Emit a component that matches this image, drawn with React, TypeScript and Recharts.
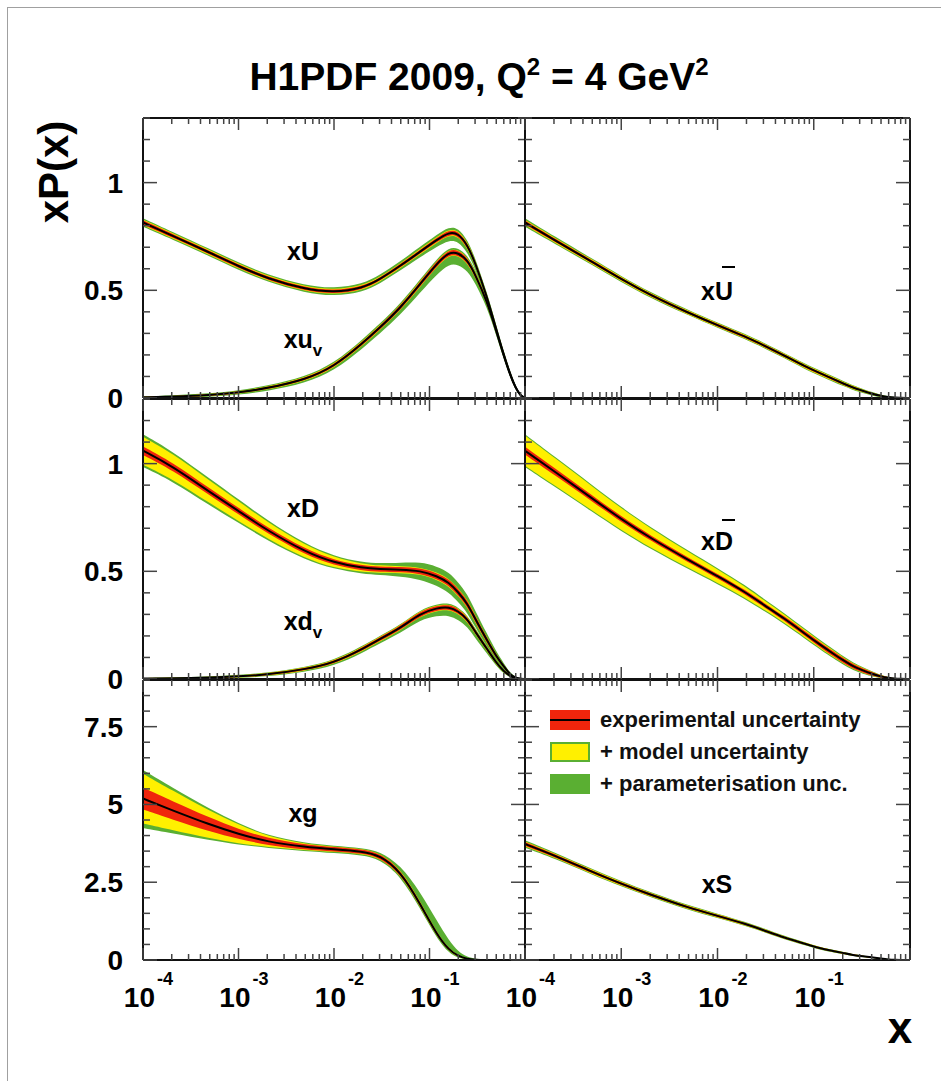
import React from "react";
import { ComposedChart, Area, Line, XAxis, YAxis, Legend } from "recharts";

const FONT = '"Liberation Sans", Arial, Helvetica, sans-serif';
const GREEN = "#5aaf32";
const YELLOW = "#fff000";
const RED = "#f0250c";

// x grid (log axis)
const X_VALUES = [0.0001, 0.0002, 0.0005, 0.001, 0.002, 0.005, 0.01, 0.02, 0.03, 0.05, 0.08, 0.12, 0.16, 0.2, 0.25, 0.3, 0.4, 0.5, 0.6, 0.7, 0.8, 0.9, 1.0];

const X_DECADES = [0.0001, 0.001, 0.01, 0.1];
const X_MINOR_STEPS = [1, 2, 3, 4, 5, 6, 7, 8, 9];
const X_TICKS = X_DECADES.flatMap((d) => X_MINOR_STEPS.map((m) => +(m * d).toPrecision(3))).concat([1]);
const X_LABEL_EXPONENTS = [-4, -3, -2, -1];

const PDF_TICKS = [0, 0.1, 0.2, 0.3, 0.4, 0.5, 0.6, 0.7, 0.8, 0.9, 1, 1.1, 1.2, 1.3];
const PDF_LABELS = [0, 0.5, 1];
const G_TICKS = [0, 0.5, 1, 1.5, 2, 2.5, 3, 3.5, 4, 4.5, 5, 5.5, 6, 6.5, 7, 7.5, 8, 8.5, 9];
const G_LABELS = [0, 2.5, 5, 7.5];

// xU
const xU = [0.815, 0.755, 0.675, 0.612, 0.555, 0.505, 0.49, 0.51, 0.55, 0.615, 0.68, 0.735, 0.77, 0.765, 0.71, 0.63, 0.47, 0.32, 0.2, 0.11, 0.045, 0.01, 0];
const xUExp = [0.01, 0.009, 0.008, 0.008, 0.008, 0.008, 0.008, 0.008, 0.008, 0.008, 0.009, 0.01, 0.011, 0.011, 0.011, 0.01, 0.009, 0.008, 0.007, 0.006, 0.004, 0.002, 0];
const xUMod = [0.013, 0.012, 0.011, 0.011, 0.011, 0.011, 0.011, 0.011, 0.011, 0.011, 0.012, 0.013, 0.014, 0.014, 0.014, 0.013, 0.012, 0.011, 0.009, 0.008, 0.005, 0.002, 0];
const xUParLo = [0.02, 0.018, 0.017, 0.017, 0.017, 0.017, 0.018, 0.019, 0.02, 0.022, 0.026, 0.032, 0.038, 0.038, 0.034, 0.028, 0.022, 0.018, 0.015, 0.012, 0.008, 0.004, 0];
const xUParHi = [0.02, 0.018, 0.017, 0.017, 0.017, 0.017, 0.018, 0.019, 0.02, 0.021, 0.022, 0.024, 0.025, 0.025, 0.024, 0.022, 0.02, 0.018, 0.015, 0.012, 0.008, 0.004, 0];

// xu_v
const xuv = [0.003, 0.006, 0.013, 0.025, 0.045, 0.085, 0.145, 0.255, 0.325, 0.42, 0.53, 0.625, 0.678, 0.675, 0.64, 0.575, 0.45, 0.31, 0.195, 0.105, 0.045, 0.01, 0];
const xuvExp = [0.002, 0.002, 0.003, 0.004, 0.005, 0.006, 0.007, 0.008, 0.009, 0.01, 0.011, 0.012, 0.012, 0.012, 0.012, 0.011, 0.01, 0.008, 0.007, 0.005, 0.003, 0.001, 0];
const xuvMod = [0.004, 0.004, 0.005, 0.006, 0.007, 0.008, 0.009, 0.01, 0.011, 0.012, 0.013, 0.014, 0.014, 0.014, 0.014, 0.013, 0.012, 0.01, 0.009, 0.007, 0.004, 0.001, 0];
const xuvParLo = [0.004, 0.006, 0.008, 0.01, 0.013, 0.016, 0.02, 0.024, 0.027, 0.032, 0.04, 0.05, 0.055, 0.055, 0.05, 0.04, 0.028, 0.02, 0.015, 0.01, 0.006, 0.002, 0];
const xuvParHi = [0.004, 0.006, 0.008, 0.01, 0.012, 0.014, 0.016, 0.018, 0.019, 0.02, 0.021, 0.022, 0.022, 0.022, 0.022, 0.022, 0.022, 0.02, 0.016, 0.012, 0.007, 0.003, 0];

// xUbar
const xUbar = [0.815, 0.735, 0.632, 0.552, 0.478, 0.395, 0.338, 0.283, 0.245, 0.196, 0.148, 0.112, 0.088, 0.068, 0.05, 0.038, 0.02, 0.009, 0.004, 0.002, 0.001, 0, 0];
const xUbarExp = [0.009, 0.008, 0.007, 0.007, 0.006, 0.006, 0.006, 0.006, 0.006, 0.006, 0.006, 0.006, 0.006, 0.005, 0.005, 0.004, 0.003, 0.002, 0.001, 0.001, 0, 0, 0];
const xUbarMod = [0.012, 0.011, 0.01, 0.01, 0.009, 0.009, 0.009, 0.009, 0.009, 0.009, 0.009, 0.009, 0.009, 0.008, 0.008, 0.007, 0.005, 0.004, 0.002, 0.001, 0, 0, 0];
const xUbarPar = [0.02, 0.017, 0.015, 0.014, 0.013, 0.012, 0.012, 0.012, 0.012, 0.012, 0.013, 0.013, 0.013, 0.012, 0.011, 0.01, 0.008, 0.006, 0.004, 0.003, 0.002, 0.001, 0];

// xD
const xD = [1.06, 0.99, 0.868, 0.78, 0.69, 0.59, 0.54, 0.515, 0.51, 0.508, 0.503, 0.478, 0.448, 0.403, 0.35, 0.28, 0.18, 0.105, 0.058, 0.02, 0.005, 0.001, 0];
const xDExp = [0.02, 0.018, 0.016, 0.015, 0.014, 0.013, 0.012, 0.012, 0.012, 0.012, 0.013, 0.014, 0.015, 0.015, 0.015, 0.014, 0.012, 0.009, 0.006, 0.004, 0.002, 0.001, 0];
const xDMod = [0.065, 0.06, 0.052, 0.046, 0.038, 0.03, 0.024, 0.019, 0.017, 0.016, 0.016, 0.017, 0.018, 0.018, 0.017, 0.016, 0.013, 0.01, 0.007, 0.004, 0.002, 0.001, 0];
const xDPar = [0.076, 0.07, 0.062, 0.055, 0.046, 0.037, 0.03, 0.026, 0.027, 0.032, 0.04, 0.045, 0.047, 0.046, 0.043, 0.038, 0.03, 0.022, 0.015, 0.008, 0.004, 0.001, 0];

// xd_v
const xdv = [0.002, 0.003, 0.006, 0.012, 0.02, 0.045, 0.075, 0.14, 0.185, 0.237, 0.305, 0.33, 0.335, 0.315, 0.278, 0.22, 0.14, 0.075, 0.035, 0.013, 0.003, 0.001, 0];
const xdvExp = [0.001, 0.001, 0.002, 0.003, 0.004, 0.005, 0.006, 0.008, 0.009, 0.01, 0.011, 0.011, 0.011, 0.011, 0.01, 0.009, 0.008, 0.006, 0.004, 0.002, 0.001, 0, 0];
const xdvMod = [0.003, 0.003, 0.004, 0.005, 0.006, 0.007, 0.008, 0.01, 0.011, 0.012, 0.013, 0.013, 0.013, 0.013, 0.012, 0.011, 0.01, 0.008, 0.006, 0.003, 0.001, 0, 0];
const xdvParLo = [0.002, 0.003, 0.005, 0.007, 0.009, 0.012, 0.015, 0.018, 0.02, 0.024, 0.03, 0.036, 0.04, 0.04, 0.036, 0.03, 0.022, 0.015, 0.01, 0.005, 0.002, 0, 0];
const xdvParHi = [0.002, 0.003, 0.005, 0.007, 0.008, 0.01, 0.012, 0.014, 0.015, 0.016, 0.017, 0.018, 0.018, 0.018, 0.017, 0.016, 0.014, 0.011, 0.008, 0.004, 0.002, 0, 0];

// xDbar
const xDbar = [1.06, 0.965, 0.838, 0.742, 0.655, 0.552, 0.478, 0.4, 0.345, 0.28, 0.212, 0.155, 0.117, 0.088, 0.062, 0.046, 0.024, 0.011, 0.005, 0.002, 0.001, 0, 0];
const xDbarExp = [0.018, 0.016, 0.014, 0.013, 0.012, 0.011, 0.01, 0.01, 0.01, 0.01, 0.011, 0.012, 0.012, 0.012, 0.011, 0.01, 0.008, 0.005, 0.003, 0.001, 0, 0, 0];
const xDbarMod = [0.07, 0.064, 0.056, 0.05, 0.044, 0.037, 0.031, 0.026, 0.022, 0.019, 0.017, 0.016, 0.015, 0.014, 0.013, 0.012, 0.009, 0.006, 0.003, 0.001, 0, 0, 0];
const xDbarPar = [0.076, 0.07, 0.062, 0.056, 0.05, 0.043, 0.037, 0.032, 0.028, 0.025, 0.023, 0.022, 0.021, 0.02, 0.018, 0.016, 0.012, 0.008, 0.004, 0.002, 0.001, 0, 0];

// xg
const xg = [5.19, 4.82, 4.35, 4.05, 3.8, 3.63, 3.56, 3.49, 3.37, 2.85, 1.8, 0.8, 0.32, 0.12, 0.03, 0.01, 0, 0, 0, 0, 0, 0, 0];
const xgExp = [0.35, 0.3, 0.22, 0.16, 0.11, 0.08, 0.07, 0.07, 0.07, 0.07, 0.07, 0.05, 0.03, 0.02, 0.01, 0, 0, 0, 0, 0, 0, 0, 0];
const xgMod = [0.8, 0.64, 0.44, 0.3, 0.17, 0.1, 0.08, 0.08, 0.08, 0.08, 0.08, 0.06, 0.04, 0.03, 0.015, 0.005, 0, 0, 0, 0, 0, 0, 0];
const xgParLo = [0.95, 0.74, 0.5, 0.34, 0.2, 0.13, 0.12, 0.12, 0.13, 0.15, 0.15, 0.12, 0.1, 0.06, 0.02, 0.01, 0, 0, 0, 0, 0, 0, 0];
const xgParHi = [0.92, 0.73, 0.5, 0.34, 0.2, 0.13, 0.11, 0.11, 0.13, 0.2, 0.38, 0.45, 0.3, 0.15, 0.06, 0.03, 0.01, 0, 0, 0, 0, 0, 0];

// xS
const xS = [3.73, 3.37, 2.83, 2.45, 2.1, 1.68, 1.42, 1.15, 0.96, 0.71, 0.53, 0.36, 0.29, 0.23, 0.165, 0.13, 0.084, 0.044, 0.015, 0.006, 0.002, 0, 0];
const xSExp = [0.06, 0.05, 0.045, 0.04, 0.04, 0.035, 0.035, 0.03, 0.03, 0.03, 0.025, 0.025, 0.02, 0.02, 0.02, 0.015, 0.012, 0.008, 0.004, 0.002, 0.001, 0, 0];
const xSMod = [0.08, 0.07, 0.065, 0.06, 0.06, 0.055, 0.05, 0.045, 0.045, 0.04, 0.035, 0.035, 0.03, 0.03, 0.025, 0.02, 0.015, 0.01, 0.006, 0.003, 0.001, 0, 0];
const xSPar = [0.12, 0.1, 0.09, 0.085, 0.08, 0.075, 0.07, 0.065, 0.06, 0.055, 0.05, 0.045, 0.04, 0.035, 0.03, 0.025, 0.02, 0.015, 0.01, 0.006, 0.003, 0.001, 0];

const LEGEND_ITEMS = [
  { label: "experimental uncertainty", fill: RED, line: true, border: false },
  { label: "+ model uncertainty", fill: YELLOW, line: false, border: true },
  { label: "+ parameterisation unc.", fill: GREEN, line: false, border: false },
];

type Curve = { key: string; c: number[]; exp: number[]; mod: number[]; lo: number[]; hi: number[] };

const buildRows = (curves: Curve[]) =>
  X_VALUES.map((x, i) => {
    const row: any = { x };
    curves.forEach((cv) => {
      const c = cv.c[i];
      row[cv.key] = c;
      row[cv.key + "Exp"] = [Math.max(0, c - cv.exp[i]), c + cv.exp[i]];
      row[cv.key + "Mod"] = [Math.max(0, c - cv.mod[i]), c + cv.mod[i]];
      row[cv.key + "Par"] = [Math.max(0, c - cv.lo[i]), c + cv.hi[i]];
    });
    return row;
  });

const TICK_COLOR = "#444";

const XTick = (props: any) => {
  const { x, y, payload, side, showLabel } = props;
  const v = payload.value;
  const e = Math.log10(v);
  const major = Math.abs(e - Math.round(e)) < 1e-6;
  const len = major ? 12 : 6;
  const dir = side === "bottom" ? -1 : 1;
  const exp = Math.round(e);
  return (
    <g>
      <line x1={x} x2={x} y1={y} y2={y + dir * len} stroke={TICK_COLOR} strokeWidth={1.5} />
      {showLabel && major && X_LABEL_EXPONENTS.includes(exp) && (
        <g fontFamily={FONT} fontWeight={700} fill="#000">
          <text x={x + 12} y={y + 47} fontSize={28} textAnchor="end">10</text>
          <text x={x + 14} y={y + 25} fontSize={18} textAnchor="start">{exp}</text>
        </g>
      )}
    </g>
  );
};

const YTick = (props: any) => {
  const { x, y, payload, side, showLabel, labels } = props;
  const v = payload.value;
  const major = labels.includes(v);
  const len = major ? 14 : 7;
  const dir = side === "left" ? 1 : -1;
  return (
    <g>
      <line x1={x} x2={x + dir * len} y1={y} y2={y} stroke={TICK_COLOR} strokeWidth={1.5} />
      {showLabel && major && (
        <text x={x - 20} y={y + 10} fontFamily={FONT} fontWeight={700} fontSize={28} textAnchor="end" fill="#000">
          {String(v)}
        </text>
      )}
    </g>
  );
};

const LegendContent = () => (
  <div style={{ fontFamily: FONT, fontWeight: 700, fontSize: 22, color: "#111" }}>
    {LEGEND_ITEMS.map((item) => (
      <div key={item.label} style={{ display: "flex", alignItems: "center", height: 32 }}>
        <div
          style={{
            width: 40,
            height: 20,
            boxSizing: "border-box",
            background: item.fill,
            border: item.border ? `2px solid ${GREEN}` : "none",
            position: "relative",
            marginRight: 10,
          }}
        >
          {item.line && <div style={{ position: "absolute", left: 0, right: 0, top: 9, height: 2, background: "#000" }} />}
        </div>
        <span style={{ whiteSpace: "nowrap" }}>{item.label}</span>
      </div>
    ))}
  </div>
);

// outer space around each plot box; axes take 1px each
const PAD = { top: 40, right: 25, bottom: 70, left: 70 };
const MARGIN = { top: PAD.top - 1, right: PAD.right - 1, bottom: PAD.bottom - 1, left: PAD.left - 1 };

type PanelProps = {
  left: number;
  top: number;
  width: number;
  height: number;
  ymax: number;
  yTicks: number[];
  yLabels: number[];
  curves: Curve[];
  showYLabels: boolean;
  showXLabels: boolean;
  legend?: boolean;
};

const Panel = ({ left, top, width, height, ymax, yTicks, yLabels, curves, showYLabels, showXLabels, legend }: PanelProps) => {
  const data = buildRows(curves);
  const axisLine = { stroke: "#111", strokeWidth: 2 };
  const common = { xAxisId: "b", yAxisId: "l", type: "basis" as const, isAnimationActive: false };
  return (
    <div style={{ position: "absolute", left: left - PAD.left, top: top - PAD.top }}>
      <ComposedChart
        width={width + PAD.left + PAD.right}
        height={height + PAD.top + PAD.bottom}
        data={data}
        margin={MARGIN}
      >
        {curves.map((cv) => (
          <Area key={cv.key + "Par"} {...common} dataKey={cv.key + "Par"} fill={GREEN} fillOpacity={1} stroke="none" dot={false} activeDot={false} />
        ))}
        {curves.map((cv) => (
          <Area key={cv.key + "Mod"} {...common} dataKey={cv.key + "Mod"} fill={YELLOW} fillOpacity={1} stroke="none" dot={false} activeDot={false} />
        ))}
        {curves.map((cv) => (
          <Area key={cv.key + "Exp"} {...common} dataKey={cv.key + "Exp"} fill={RED} fillOpacity={1} stroke="none" dot={false} activeDot={false} />
        ))}
        {curves.map((cv) => (
          <Line key={cv.key} {...common} dataKey={cv.key} stroke="#000" strokeWidth={2} dot={false} activeDot={false} />
        ))}
        <XAxis
          xAxisId="b"
          dataKey="x"
          type="number"
          scale="log"
          domain={[0.0001, 1]}
          allowDataOverflow
          ticks={X_TICKS}
          interval={0}
          height={1}
          tickSize={0}
          tickMargin={0}
          tickLine={false}
          axisLine={axisLine}
          tick={(p: any) => <XTick {...p} side="bottom" showLabel={showXLabels} />}
        />
        <XAxis
          xAxisId="t"
          orientation="top"
          dataKey="x"
          type="number"
          scale="log"
          domain={[0.0001, 1]}
          allowDataOverflow
          ticks={X_TICKS}
          interval={0}
          height={1}
          tickSize={0}
          tickMargin={0}
          tickLine={false}
          axisLine={axisLine}
          tick={(p: any) => <XTick {...p} side="top" showLabel={false} />}
        />
        <YAxis
          yAxisId="l"
          type="number"
          domain={[0, ymax]}
          allowDataOverflow
          ticks={yTicks}
          interval={0}
          width={1}
          tickSize={0}
          tickMargin={0}
          tickLine={false}
          axisLine={axisLine}
          tick={(p: any) => <YTick {...p} side="left" showLabel={showYLabels} labels={yLabels} />}
        />
        <YAxis
          yAxisId="r"
          orientation="right"
          type="number"
          domain={[0, ymax]}
          allowDataOverflow
          ticks={yTicks}
          interval={0}
          width={1}
          tickSize={0}
          tickMargin={0}
          tickLine={false}
          axisLine={axisLine}
          tick={(p: any) => <YTick {...p} side="right" showLabel={false} labels={yLabels} />}
        />
        {legend && (
          <Legend
            layout="vertical"
            align="center"
            verticalAlign="middle"
            content={() => <LegendContent />}
            wrapperStyle={{ left: 95, top: 64, width: 360, height: 100 }}
          />
        )}
      </ComposedChart>
    </div>
  );
};

const COL_LEFT = [143, 525];
const COL_WIDTH = [382, 385];
const ROW_TOP = [118, 399, 680];
const ROW_HEIGHT = 280;

const Bar = ({ x, y, w }: { x: number; y: number; w: number }) => (
  <line x1={x} x2={x + w} y1={y} y2={y} stroke="#000" strokeWidth={2} />
);

export default function App() {
  const lbl = { fontFamily: FONT, fontWeight: 700, fill: "#000" } as const;
  return (
    <div style={{ position: "absolute", left: 0, top: 0, width: 941, height: 1081, background: "#fff", overflow: "hidden" }}>
      <svg width={941} height={1081} style={{ position: "absolute", left: 0, top: 0 }}>
        <rect x={7.5} y={7.5} width={940} height={1080} fill="none" stroke="#a0a0a0" strokeWidth={1} />
        <text x={479} y={90} fontSize={39} textAnchor="middle" {...lbl}>
          H1PDF 2009, Q<tspan dy={-15} fontSize={24}>2</tspan>
          <tspan dy={15}> = 4 GeV</tspan>
          <tspan dy={-15} fontSize={24}>2</tspan>
        </text>
        <text x={68} y={172} fontSize={42} textAnchor="middle" transform="rotate(-90 68 172)" {...lbl}>
          xP(x)
        </text>
        <text x={900} y={1043} fontSize={44} textAnchor="middle" {...lbl}>x</text>
      </svg>

      <Panel left={COL_LEFT[0]} top={ROW_TOP[0]} width={COL_WIDTH[0]} height={ROW_HEIGHT} ymax={1.3} yTicks={PDF_TICKS} yLabels={PDF_LABELS}
        curves={[
          { key: "xU", c: xU, exp: xUExp, mod: xUMod, lo: xUParLo, hi: xUParHi },
          { key: "xuv", c: xuv, exp: xuvExp, mod: xuvMod, lo: xuvParLo, hi: xuvParHi },
        ]}
        showYLabels showXLabels={false} />
      <Panel left={COL_LEFT[1]} top={ROW_TOP[0]} width={COL_WIDTH[1]} height={ROW_HEIGHT} ymax={1.3} yTicks={PDF_TICKS} yLabels={PDF_LABELS}
        curves={[{ key: "xUbar", c: xUbar, exp: xUbarExp, mod: xUbarMod, lo: xUbarPar, hi: xUbarPar }]}
        showYLabels={false} showXLabels={false} />
      <Panel left={COL_LEFT[0]} top={ROW_TOP[1]} width={COL_WIDTH[0]} height={ROW_HEIGHT} ymax={1.3} yTicks={PDF_TICKS} yLabels={PDF_LABELS}
        curves={[
          { key: "xD", c: xD, exp: xDExp, mod: xDMod, lo: xDPar, hi: xDPar },
          { key: "xdv", c: xdv, exp: xdvExp, mod: xdvMod, lo: xdvParLo, hi: xdvParHi },
        ]}
        showYLabels showXLabels={false} />
      <Panel left={COL_LEFT[1]} top={ROW_TOP[1]} width={COL_WIDTH[1]} height={ROW_HEIGHT} ymax={1.3} yTicks={PDF_TICKS} yLabels={PDF_LABELS}
        curves={[{ key: "xDbar", c: xDbar, exp: xDbarExp, mod: xDbarMod, lo: xDbarPar, hi: xDbarPar }]}
        showYLabels={false} showXLabels={false} />
      <Panel left={COL_LEFT[0]} top={ROW_TOP[2]} width={COL_WIDTH[0]} height={ROW_HEIGHT} ymax={9} yTicks={G_TICKS} yLabels={G_LABELS}
        curves={[{ key: "xg", c: xg, exp: xgExp, mod: xgMod, lo: xgParLo, hi: xgParHi }]}
        showYLabels showXLabels />
      <Panel left={COL_LEFT[1]} top={ROW_TOP[2]} width={COL_WIDTH[1]} height={ROW_HEIGHT} ymax={9} yTicks={G_TICKS} yLabels={G_LABELS}
        curves={[{ key: "xS", c: xS, exp: xSExp, mod: xSMod, lo: xSPar, hi: xSPar }]}
        showYLabels={false} showXLabels legend />

      <svg width={941} height={1081} style={{ position: "absolute", left: 0, top: 0, pointerEvents: "none" }}>
        <g fontSize={25} {...lbl}>
          <text x={303} y={260} textAnchor="middle">xU</text>
          <text x={303} y={348} textAnchor="middle">xu<tspan dy={8} fontSize={17}>v</tspan></text>
          <text x={717} y={300} textAnchor="middle">xU</text>
          <Bar x={722} y={267} w={13} />
          <text x={303} y={517} textAnchor="middle">xD</text>
          <text x={303} y={630} textAnchor="middle">xd<tspan dy={8} fontSize={17}>v</tspan></text>
          <text x={717} y={550} textAnchor="middle">xD</text>
          <Bar x={722} y={520} w={13} />
          <text x={303} y={822} textAnchor="middle">xg</text>
          <text x={717} y={893} textAnchor="middle">xS</text>
        </g>
      </svg>
    </div>
  );
}
